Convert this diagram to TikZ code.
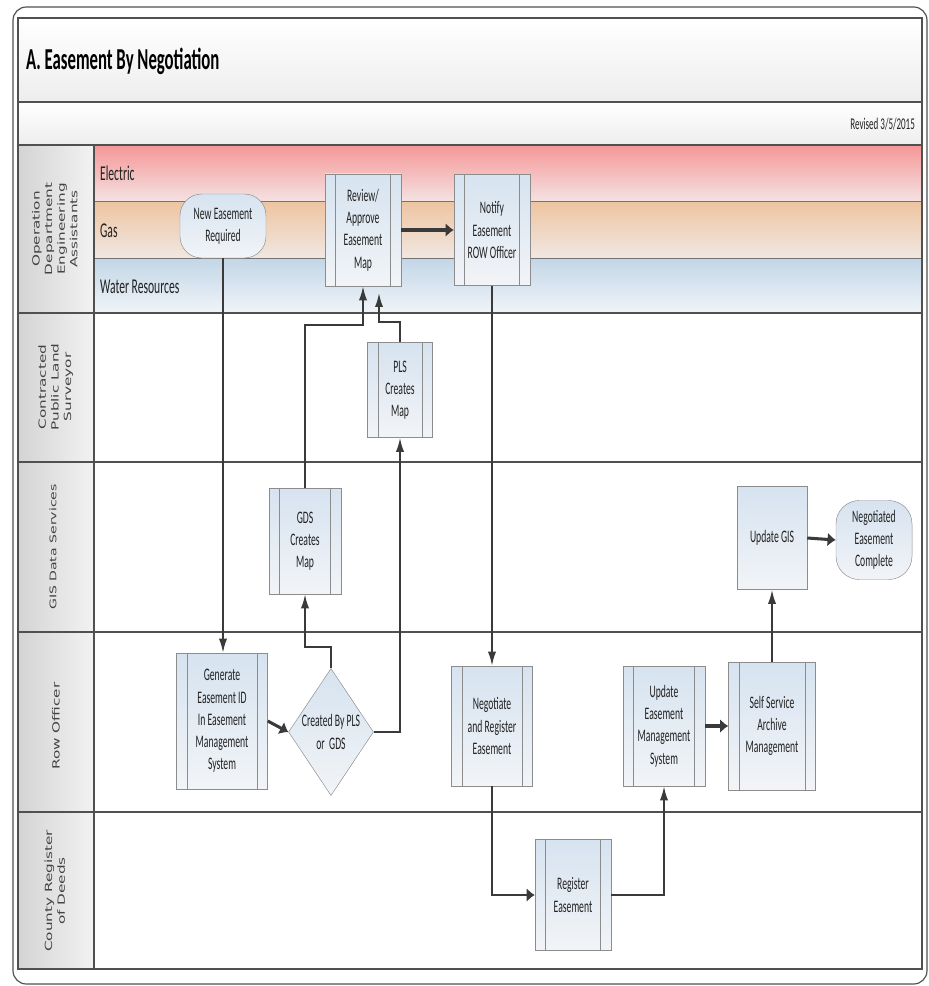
\documentclass[tikz,border=0pt]{standalone}
\usepackage{fontspec}
\setmainfont{Carlito}[FakeStretch=0.55]
\newfontfamily\lanefont{DejaVu Sans}
\usetikzlibrary{shapes.geometric,arrows.meta}
\definecolor{boxline}{HTML}{8C8C8C}
\definecolor{boxtop}{HTML}{D6E3F0}
\definecolor{boxbot}{HTML}{F2F4F7}
\definecolor{laneline}{HTML}{505050}
\definecolor{flowline}{HTML}{3A3A3A}
\definecolor{txt}{HTML}{222222}
\newcommand{\nodefont}{\fontsize{15}{19}\selectfont\color{txt}}
\newcommand{\lanetext}[1]{\scalebox{1}[0.65]{\begin{tabular}{@{}c@{}}#1\end{tabular}}}
\tikzset{
  procbox/.style={draw=boxline, top color=boxtop, bottom color=boxbot, inner sep=0pt, align=center, font=\nodefont,
    path picture={\draw[boxline] ([xshift=0.32cm]path picture bounding box.north west) -- ([xshift=0.32cm]path picture bounding box.south west)
      ([xshift=-0.32cm]path picture bounding box.north east) -- ([xshift=-0.32cm]path picture bounding box.south east);}},
  plainbox/.style={draw=boxline, top color=boxtop, bottom color=boxbot, inner sep=0pt, align=center, font=\nodefont},
  termbox/.style={plainbox, rounded corners=0.65cm},
  decbox/.style={plainbox, diamond, aspect=0.67},
  lanelabel/.style={rotate=90, font=\lanefont\fontsize{13}{16.5}\selectfont\color{txt!85}},
  sublabel/.style={anchor=base west, font=\fontsize{18}{20}\selectfont\color{txt}},
  vflow/.style={draw=flowline, line width=1.6pt, -{Latex[length=12pt,width=7pt]}},
  hflow/.style={draw=flowline, line width=2.6pt, -{Latex[length=7pt,width=12pt]}}
}
\begin{document}
\begin{tikzpicture}[x=0.03cm, y=-0.03cm]
    \useasboundingbox (0,0) rectangle (928,986);
    \draw[laneline, line width=1pt, rounded corners=0.4cm] (13,7) rectangle (927,984);
    \shade[top color=white, bottom color=black!7] (18,18) rectangle (922,102);
    \shade[top color=white, bottom color=black!7] (18,102) rectangle (922,145);
    \shade[left color=black!17, right color=black!5] (18,145) rectangle (94,969);
    \shade[top color={rgb,255:red,245;green,150;blue,150}, bottom color={rgb,255:red,244;green,226;blue,226}] (94,145) rectangle (922,201);
    \shade[top color={rgb,255:red,238;green,196;blue,160}, bottom color={rgb,255:red,240;green,231;blue,226}] (94,201) rectangle (922,258);
    \shade[top color={rgb,255:red,194;green,214;blue,231}, bottom color={rgb,255:red,240;green,244;blue,248}] (94,258) rectangle (922,313);
    \draw[black!55, line width=0.8pt] (94,201) -- (922,201) (94,258) -- (922,258);
    \draw[laneline, line width=1.3pt] (18,18) rectangle (922,969);
    \draw[laneline, line width=1.3pt] (18,102) -- (922,102) (18,145) -- (922,145);
    \foreach \y in {313,462,632,812}
        \draw[laneline, line width=1.3pt] (18,\y) -- (922,\y);
    \draw[laneline, line width=1.3pt] (94,145) -- (94,969);

    \node[anchor=base west, font=\fontsize{26}{30}\selectfont\bfseries\color{black}] (title) at (22,70) {A. Easement By Negotiation};
    \node[anchor=base east, font=\fontsize{14}{16}\selectfont\color{txt}] (revised) at (919,129) {Revised 3/5/2015};

    \node[lanelabel] (laneops) at (56,229) {\lanetext{Operation\\Department\\Engineering\\Assistants}};
    \node[lanelabel] (lanepls) at (56,387) {\lanetext{Contracted\\Public Land\\Surveyor}};
    \node[lanelabel, font=\lanefont\fontsize{12}{15}\selectfont\color{txt!85}] (lanegis) at (54,547) {\lanetext{GIS Data Services}};
    \node[lanelabel] (lanerow) at (57,726) {\lanetext{Row Officer}};
    \node[lanelabel] (lanedeeds) at (56,891) {\lanetext{County Register\\of Deeds}};
    \node[sublabel] (electric) at (96,180) {Electric};
    \node[sublabel] (gas) at (96,237) {Gas};
    \node[sublabel] (water) at (96,293) {Water Resources};

    \node[termbox, minimum width=2.58cm, minimum height=1.92cm] (new) at (223,226) {New Easement\\Required};
    \node[procbox, minimum width=2.28cm, minimum height=3.36cm] (review) at (363,230) {Review/\\Approve\\Easement\\Map};
    \node[procbox, minimum width=2.28cm, minimum height=3.33cm] (notify) at (492,230) {Notify\\Easement\\ROW Officer};
    \node[procbox, minimum width=1.95cm, minimum height=2.85cm] (pls) at (400,390) {PLS\\Creates\\Map};
    \node[procbox, minimum width=2.16cm, minimum height=3.18cm] (gds) at (305,541) {GDS\\Creates\\Map};
    \node[plainbox, minimum width=2.1cm, minimum height=3.09cm] (updategis) at (772,538) {Update GIS};
    \node[termbox, rounded corners=0.7cm, minimum width=2.28cm, minimum height=2.37cm] (done) at (874,540) {Negotiated\\Easement\\Complete};
    \node[procbox, minimum width=2.73cm, minimum height=4.08cm] (generate) at (222,721) {Generate\\Easement ID\\In Easement\\Management\\System};
    \node[decbox, minimum width=2.55cm, minimum height=3.81cm] (decide) at (331,732) {Created By PLS\\or~~GDS};
    \node[procbox, minimum width=2.43cm, minimum height=3.6cm] (negotiate) at (492,726) {Negotiate\\and Register\\Easement};
    \node[procbox, minimum width=2.46cm, minimum height=3.6cm] (updateems) at (664,726) {Update\\Easement\\Management\\System};
    \node[procbox, minimum width=2.61cm, minimum height=3.84cm] (selfserv) at (772,726) {Self Service\\Archive\\Management};
    \node[procbox, minimum width=2.28cm, minimum height=3.33cm] (register) at (573,895) {Register\\Easement};

    \coordinate (gdsturn) at (305,647);
    \coordinate (gdsbend) at (334,325);
    \coordinate (plsbend) at (390,322);

    \draw[vflow] (new.south) -- (new.south |- generate.north);
    \draw[hflow] (review.east) -- (notify.west);
    \draw[hflow] (generate.east) -- (decide.west);
    \draw[vflow] (decide.north) |- (gdsturn) -- (gds.south);
    \draw[vflow] (decide.east) -| (pls.south);
    \draw[vflow] (gds.north) |- (gdsbend) -| (review.south);
    \draw[vflow, shorten >=0.2cm] (pls.north) |- (plsbend) -| ([xshift=0.48cm]review.south);
    \draw[vflow] (notify.south) -- (negotiate.north);
    \draw[hflow, line width=1.8pt] (negotiate.south) |- (register.west);
    \draw[vflow] (register.east) -| (updateems.south);
    \draw[hflow] (updateems.east) -- (selfserv.west);
    \draw[vflow] (selfserv.north) -- (updategis.south);
    \draw[hflow] (updategis.east) -- (done.west);
\end{tikzpicture}
\end{document}
